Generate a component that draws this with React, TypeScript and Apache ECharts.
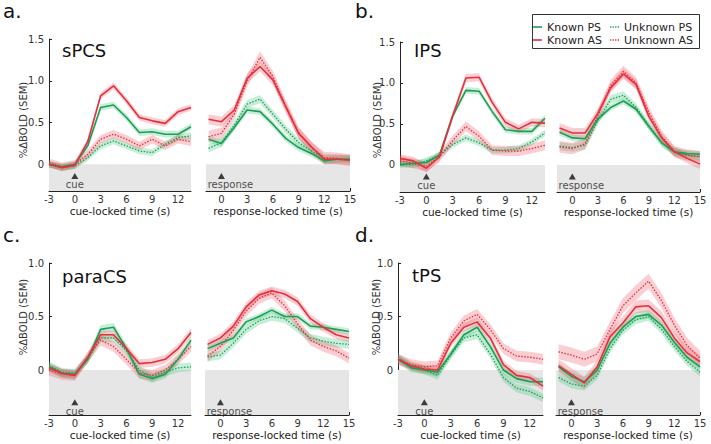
import React, { useEffect, useRef } from "react";
import * as echarts from "echarts";

// ---------- data ----------
const T_CUE = [-3, -1.5, 0, 1.5, 3, 4.5, 6, 7.5, 9, 10.5, 12, 13.5];
const T_RESP = [-1.5, 0, 1.5, 3, 4.5, 6, 7.5, 9, 10.5, 12, 13.5, 15];
const CUE_TICKS = [-3, 0, 3, 6, 9, 12];
const RESP_TICKS = [0, 3, 6, 9, 12, 15];
const Y_TICKS_TOP = [0, 0.5, 1.0, 1.5];
const Y_TICKS_BOTTOM = [0, 0.5, 1.0];
const CONDITIONS = ["Known PS", "Known AS", "Unknown PS", "Unknown AS"];

// sPCS
const sPCS_cue_KPS = [0.0, -0.03, 0.0, 0.22, 0.68, 0.71, 0.56, 0.38, 0.39, 0.36, 0.36, 0.45];
const sPCS_cue_KAS = [0.0, -0.04, -0.01, 0.27, 0.82, 0.94, 0.76, 0.56, 0.52, 0.49, 0.63, 0.68];
const sPCS_cue_UPS = [0.0, -0.04, -0.02, 0.08, 0.22, 0.28, 0.22, 0.16, 0.14, 0.24, 0.32, 0.34];
const sPCS_cue_UAS = [0.02, -0.03, 0.0, 0.12, 0.3, 0.36, 0.3, 0.22, 0.3, 0.22, 0.3, 0.27];
const sPCS_resp_KPS = [0.3, 0.25, 0.44, 0.65, 0.63, 0.48, 0.31, 0.2, 0.13, 0.04, 0.06, 0.06];
const sPCS_resp_KAS = [0.54, 0.51, 0.65, 1.03, 1.17, 1.01, 0.69, 0.37, 0.21, 0.06, 0.06, 0.05];
const sPCS_resp_UPS = [0.19, 0.26, 0.47, 0.72, 0.78, 0.6, 0.42, 0.26, 0.16, 0.06, 0.06, 0.06];
const sPCS_resp_UAS = [0.33, 0.37, 0.6, 1.0, 1.28, 1.05, 0.7, 0.38, 0.2, 0.08, 0.07, 0.05];

// IPS
const IPS_cue_KPS = [0.0, 0.02, 0.03, 0.12, 0.6, 0.91, 0.9, 0.65, 0.43, 0.41, 0.41, 0.57];
const IPS_cue_KAS = [0.08, 0.05, -0.04, 0.1, 0.6, 1.06, 1.07, 0.76, 0.52, 0.44, 0.52, 0.51];
const IPS_cue_UPS = [0.02, 0.0, 0.05, 0.12, 0.25, 0.33, 0.27, 0.18, 0.18, 0.2, 0.28, 0.39];
const IPS_cue_UAS = [0.05, 0.02, -0.02, 0.1, 0.3, 0.47, 0.35, 0.18, 0.17, 0.17, 0.2, 0.24];
const IPS_resp_KPS = [0.4, 0.33, 0.32, 0.56, 0.7, 0.78, 0.68, 0.47, 0.27, 0.16, 0.14, 0.13];
const IPS_resp_KAS = [0.45, 0.39, 0.39, 0.63, 0.94, 1.11, 0.98, 0.59, 0.33, 0.16, 0.08, 0.01];
const IPS_resp_UPS = [0.23, 0.21, 0.24, 0.54, 0.8, 0.85, 0.7, 0.48, 0.27, 0.16, 0.12, 0.1];
const IPS_resp_UAS = [0.22, 0.2, 0.26, 0.6, 0.97, 1.14, 1.0, 0.64, 0.35, 0.16, 0.12, 0.1];

// paraCS
const paraCS_cue_KPS = [0.03, -0.03, -0.04, 0.1, 0.38, 0.4, 0.2, -0.04, -0.08, -0.04, 0.1, 0.28];
const paraCS_cue_KAS = [0.02, -0.03, -0.05, 0.12, 0.33, 0.33, 0.2, 0.06, 0.07, 0.1, 0.2, 0.35];
const paraCS_cue_UPS = [0.04, -0.02, -0.03, 0.1, 0.3, 0.3, 0.18, 0.0, -0.07, -0.02, 0.02, 0.03];
const paraCS_cue_UAS = [0.0, -0.04, -0.05, 0.12, 0.28, 0.22, 0.1, -0.03, -0.05, 0.0, 0.1, 0.22];
const paraCS_resp_KPS = [0.2, 0.25, 0.3, 0.45, 0.5, 0.56, 0.5, 0.5, 0.41, 0.4, 0.38, 0.36];
const paraCS_resp_KAS = [0.24, 0.3, 0.41, 0.59, 0.7, 0.74, 0.71, 0.64, 0.48, 0.4, 0.33, 0.3];
const paraCS_resp_UPS = [0.12, 0.14, 0.25, 0.38, 0.46, 0.5, 0.48, 0.39, 0.3, 0.27, 0.25, 0.24];
const paraCS_resp_UAS = [0.13, 0.22, 0.37, 0.55, 0.67, 0.72, 0.6, 0.43, 0.28, 0.22, 0.18, 0.11];

// tPS
const tPS_cue_KPS = [0.1, 0.02, 0.0, -0.02, 0.15, 0.33, 0.4, 0.22, 0.0, -0.08, -0.11, -0.11];
const tPS_cue_KAS = [0.1, 0.04, 0.01, 0.0, 0.25, 0.4, 0.45, 0.3, 0.05, -0.05, -0.07, -0.15];
const tPS_cue_UPS = [0.12, 0.03, 0.0, -0.05, 0.14, 0.3, 0.33, 0.15, -0.07, -0.17, -0.2, -0.26];
const tPS_cue_UAS = [0.1, 0.05, 0.03, 0.04, 0.3, 0.46, 0.52, 0.38, 0.2, 0.13, 0.12, 0.1];
const tPS_resp_KPS = [0.03, -0.06, -0.11, 0.0, 0.25, 0.4, 0.5, 0.52, 0.42, 0.26, 0.12, 0.03];
const tPS_resp_KAS = [0.04, -0.04, -0.12, 0.03, 0.31, 0.44, 0.59, 0.6, 0.49, 0.3, 0.16, 0.08];
const tPS_resp_UPS = [-0.07, -0.13, -0.15, -0.05, 0.2, 0.37, 0.47, 0.5, 0.38, 0.22, 0.08, -0.02];
const tPS_resp_UAS = [0.17, 0.14, 0.1, 0.15, 0.38, 0.6, 0.72, 0.83, 0.65, 0.42, 0.23, 0.11];

// SEM (half-width of shaded band), per condition [KPS, KAS, UPS, UAS]
const sPCS_cue_SEM = [0.04, 0.04, 0.04, 0.05];
const sPCS_resp_SEM = [0.04, 0.06, 0.05, 0.07];
const IPS_cue_SEM = [0.04, 0.05, 0.04, 0.06];
const IPS_resp_SEM = [0.04, 0.06, 0.05, 0.07];
const paraCS_cue_SEM = [0.04, 0.04, 0.04, 0.05];
const paraCS_resp_SEM = [0.03, 0.04, 0.04, 0.05];
const tPS_cue_SEM = [0.04, 0.04, 0.04, 0.05];
const tPS_resp_SEM = [0.04, 0.06, 0.04, 0.07];

// ---------- styles / layout ----------
const FONT = "DejaVu Sans";
const GREEN = "#1f9d55";
const RED = "#e3303b";
const GREEN_BAND = "rgba(70,200,125,0.30)";
const RED_BAND = "rgba(238,80,92,0.28)";
const GRAY = "#e6e6e6";
const COLORS = [GREEN, RED, GREEN, RED];
const BANDS = [GREEN_BAND, RED_BAND, GREEN_BAND, RED_BAND];
const DOTTED = [false, false, true, true];
const ICON_SOLID = "path://M0,0H9V1.6H0Z";
const ICON_DOTTED =
  "path://M0,0H1.3V1.3H0Z M2.6,0H3.9V1.3H2.6Z M5.2,0H6.5V1.3H5.2Z M7.8,0H9.1V1.3H7.8Z";

const PANELS = [
  {
    letter: "a.", region: "sPCS", letterPos: [3, 18], titlePos: [62, 57], yNamePos: [23, 120],
    top: 39, height: 152, yMin: -0.32, yMax: 1.5, yTicks: Y_TICKS_TOP, triY: -0.14,
    leftGrid: { left: 49, width: 142 }, rightGrid: { left: 206, width: 144 },
    cue: [sPCS_cue_KPS, sPCS_cue_KAS, sPCS_cue_UPS, sPCS_cue_UAS], cueSem: sPCS_cue_SEM,
    resp: [sPCS_resp_KPS, sPCS_resp_KAS, sPCS_resp_UPS, sPCS_resp_UAS], respSem: sPCS_resp_SEM,
  },
  {
    letter: "b.", region: "IPS", letterPos: [355, 18], titlePos: [414, 57], yNamePos: [377, 120],
    top: 42, height: 150, yMin: -0.33, yMax: 1.5, yTicks: Y_TICKS_TOP, triY: -0.14,
    leftGrid: { left: 400, width: 145 }, rightGrid: { left: 557, width: 143 },
    cue: [IPS_cue_KPS, IPS_cue_KAS, IPS_cue_UPS, IPS_cue_UAS], cueSem: IPS_cue_SEM,
    resp: [IPS_resp_KPS, IPS_resp_KAS, IPS_resp_UPS, IPS_resp_UAS], respSem: IPS_resp_SEM,
  },
  {
    letter: "c.", region: "paraCS", letterPos: [3, 242], titlePos: [62, 283], yNamePos: [23, 317],
    top: 263, height: 152, yMin: -0.42, yMax: 1.0, yTicks: Y_TICKS_BOTTOM, triY: -0.3,
    leftGrid: { left: 49, width: 142 }, rightGrid: { left: 205, width: 144 },
    cue: [paraCS_cue_KPS, paraCS_cue_KAS, paraCS_cue_UPS, paraCS_cue_UAS], cueSem: paraCS_cue_SEM,
    resp: [paraCS_resp_KPS, paraCS_resp_KAS, paraCS_resp_UPS, paraCS_resp_UAS], respSem: paraCS_resp_SEM,
  },
  {
    letter: "d.", region: "tPS", letterPos: [355, 242], titlePos: [412, 282], yNamePos: [376, 317],
    top: 263, height: 152, yMin: -0.42, yMax: 1.0, yTicks: Y_TICKS_BOTTOM, triY: -0.3,
    leftGrid: { left: 398, width: 145 }, rightGrid: { left: 556, width: 144 },
    cue: [tPS_cue_KPS, tPS_cue_KAS, tPS_cue_UPS, tPS_cue_UAS], cueSem: tPS_cue_SEM,
    resp: [tPS_resp_KPS, tPS_resp_KAS, tPS_resp_UPS, tPS_resp_UAS], respSem: tPS_resp_SEM,
  },
];

function buildOption(): any {
  const grids: any[] = [];
  const xAxes: any[] = [];
  const yAxes: any[] = [];
  const series: any[] = [];
  const graphics: any[] = [];

  PANELS.forEach((p) => {
    ["cue", "resp"].forEach((kind) => {
      const isCue = kind === "cue";
      const gi = grids.length;
      const g = isCue ? p.leftGrid : p.rightGrid;
      grids.push({ left: g.left, top: p.top, width: g.width, height: p.height });
      const T = isCue ? T_CUE : T_RESP;
      const xMin = isCue ? -3 : -1.8;
      const xMax = isCue ? 13.5 : 15;
      const ticks = isCue ? CUE_TICKS : RESP_TICKS;
      xAxes.push({
        type: "value",
        gridIndex: gi,
        min: xMin,
        max: xMax,
        axisLine: { show: true, onZero: false, lineStyle: { color: "#222", width: 1 } },
        axisTick: { show: true, inside: true, length: 3, customValues: ticks, lineStyle: { color: "#222" } },
        axisLabel: { customValues: ticks, fontSize: 10, color: "#333", margin: 3, fontFamily: FONT },
        splitLine: { show: false },
        name: isCue ? "cue-locked time (s)" : "response-locked time (s)",
        nameLocation: "middle",
        nameGap: 14,
        nameTextStyle: { fontSize: 10.5, color: "#222", fontFamily: FONT },
      });
      yAxes.push({
        type: "value",
        gridIndex: gi,
        min: p.yMin,
        max: p.yMax,
        show: isCue,
        axisLine: { show: true, onZero: false, lineStyle: { color: "#222", width: 1 } },
        axisTick: { show: true, inside: true, length: 3, customValues: p.yTicks, lineStyle: { color: "#222" } },
        axisLabel: {
          customValues: p.yTicks,
          fontSize: 10,
          color: "#333",
          margin: 5,
          fontFamily: FONT,
          formatter: (v: number) => (Math.abs(v) < 1e-9 ? "0" : v.toFixed(1)),
        },
        splitLine: { show: false },
      });

      // gray region below zero
      series.push({
        type: "custom",
        xAxisIndex: gi,
        yAxisIndex: gi,
        silent: true,
        z: 1,
        data: [[0, 0]],
        renderItem: (_params: any, api: any) => {
          const a = api.coord([xMin, 0]);
          const b = api.coord([xMax, p.yMin]);
          return {
            type: "rect",
            shape: { x: a[0], y: a[1], width: b[0] - a[0], height: b[1] - a[1] },
            style: { fill: GRAY },
          };
        },
      });

      const vals = isCue ? p.cue : p.resp;
      const sems = isCue ? p.cueSem : p.respSem;

      // SEM bands
      CONDITIONS.forEach((_name, ci) => {
        const v = vals[ci];
        const s = sems[ci];
        series.push({
          type: "custom",
          name: "band",
          xAxisIndex: gi,
          yAxisIndex: gi,
          silent: true,
          z: 2,
          data: [[T[0], v[0]]],
          renderItem: (_params: any, api: any) => {
            const pts: number[][] = [];
            for (let i = 0; i < T.length; i++) pts.push(api.coord([T[i], v[i] + s]));
            for (let i = T.length - 1; i >= 0; i--) pts.push(api.coord([T[i], v[i] - s]));
            return { type: "polygon", shape: { points: pts }, style: { fill: BANDS[ci] } };
          },
        });
      });

      // mean lines
      CONDITIONS.forEach((name, ci) => {
        const v = vals[ci];
        series.push({
          type: "line",
          name,
          xAxisIndex: gi,
          yAxisIndex: gi,
          symbol: "none",
          silent: true,
          z: 3 + (DOTTED[ci] ? 0 : 1),
          data: T.map((t, i) => [t, v[i]]),
          itemStyle: { color: COLORS[ci] },
          lineStyle: {
            color: COLORS[ci],
            width: DOTTED[ci] ? 1.3 : 1.6,
            type: DOTTED[ci] ? [1.5, 1.5] : "solid",
          },
        });
      });

      // cue / response marker
      series.push({
        type: "scatter",
        xAxisIndex: gi,
        yAxisIndex: gi,
        silent: true,
        z: 6,
        symbol: "triangle",
        symbolSize: [7, 6],
        itemStyle: { color: "#111" },
        data: [[0, p.triY]],
        label: {
          show: true,
          position: "bottom",
          distance: 1,
          formatter: isCue ? "cue" : "response",
          fontSize: 10,
          color: "#222",
          fontFamily: FONT,
          offset: isCue ? [0, 0] : [9, 0],
        },
      });
    });

    // panel letter, region title, y-axis name
    graphics.push({
      type: "text",
      x: p.letterPos[0],
      y: p.letterPos[1] - 7,
      style: { text: p.letter, fontSize: 20, fontFamily: FONT, fill: "#111", verticalAlign: "middle", align: "left" },
    });
    graphics.push({
      type: "text",
      x: p.titlePos[0],
      y: p.titlePos[1] - 6.5,
      style: { text: p.region, fontSize: 18, fontFamily: FONT, fill: "#111", verticalAlign: "middle", align: "left" },
    });
    graphics.push({
      type: "text",
      x: p.yNamePos[0],
      y: p.yNamePos[1],
      rotation: Math.PI / 2,
      style: { text: "%ΔBOLD (SEM)", fontSize: 10, fontFamily: FONT, fill: "#333", verticalAlign: "middle", align: "center" },
    });
  });

  // legend box
  graphics.push({
    type: "rect",
    z: -1,
    shape: { x: 532.5, y: 14.5, width: 167, height: 34 },
    style: { fill: "#fff", stroke: "#333", lineWidth: 1 },
  });

  const legendCommon = {
    orient: "vertical",
    top: 20.5,
    padding: 0,
    itemGap: 0,
    itemWidth: 9,
    itemHeight: 10,
    symbolKeepAspect: true,
    selectedMode: false,
    textStyle: { fontSize: 11, lineHeight: 13, color: "#222", fontFamily: FONT },
  };

  return {
    animation: false,
    textStyle: { fontFamily: FONT },
    grid: grids,
    xAxis: xAxes,
    yAxis: yAxes,
    series,
    legend: [
      {
        ...legendCommon,
        left: 533,
        data: [
          { name: CONDITIONS[0], icon: ICON_SOLID },
          { name: CONDITIONS[1], icon: ICON_SOLID },
        ],
      },
      {
        ...legendCommon,
        left: 610,
        data: [
          { name: CONDITIONS[2], icon: ICON_DOTTED },
          { name: CONDITIONS[3], icon: ICON_DOTTED },
        ],
      },
    ],
    graphic: graphics,
  };
}

export default function App() {
  const ref = useRef<HTMLDivElement>(null);
  useEffect(() => {
    if (!ref.current) return;
    const chart = echarts.init(ref.current, undefined, { renderer: "svg" });
    chart.setOption(buildOption());
    return () => chart.dispose();
  }, []);
  return (
    <div
      ref={ref}
      style={{ position: "absolute", left: 0, top: 0, width: 711, height: 444, background: "#fff" }}
    />
  );
}
